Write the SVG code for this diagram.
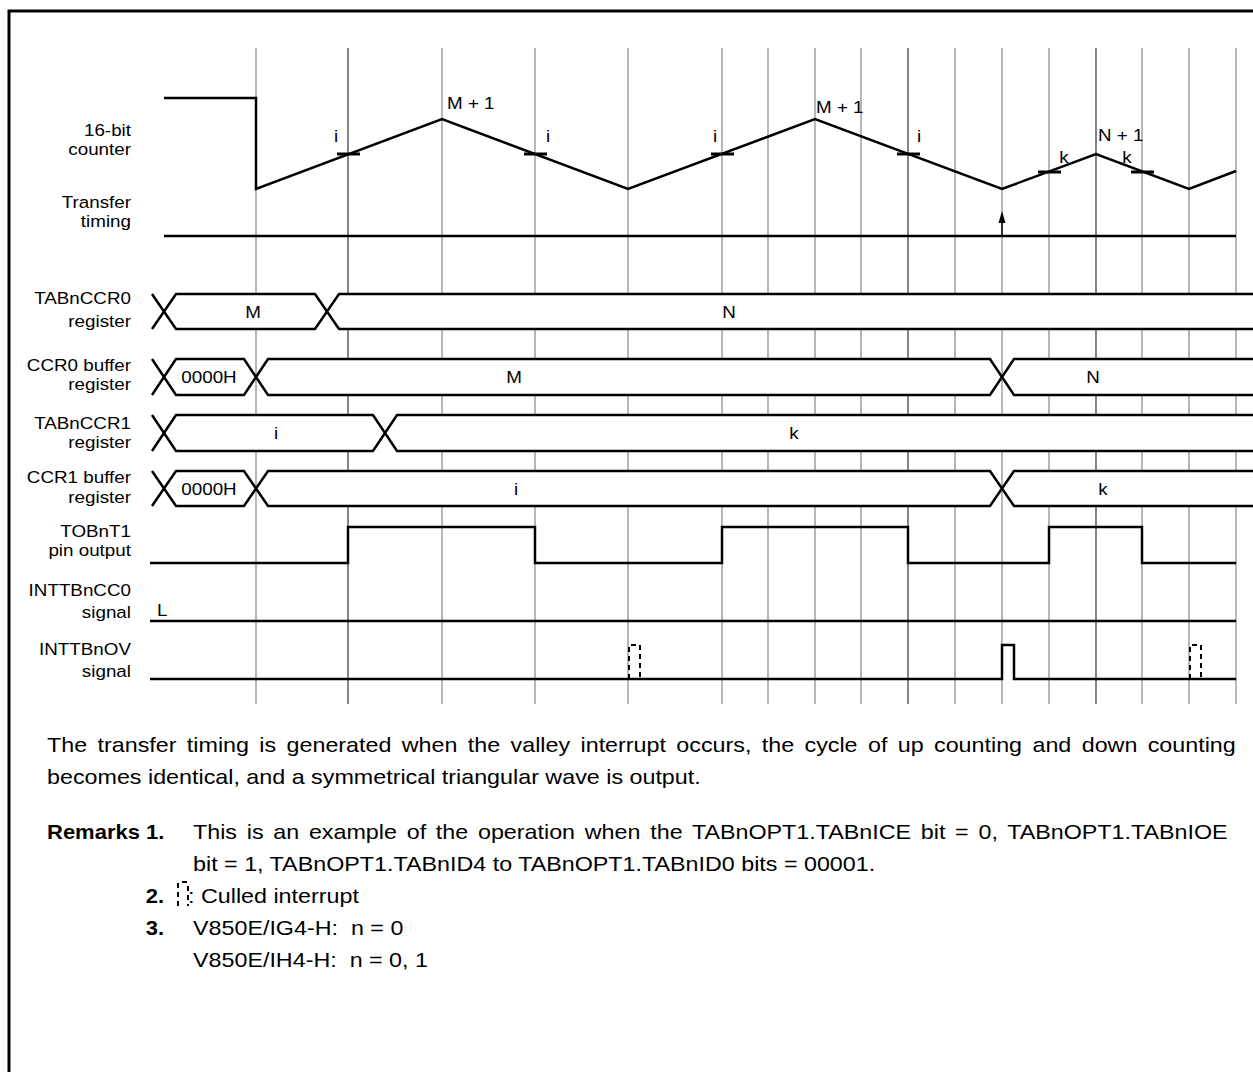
<svg xmlns="http://www.w3.org/2000/svg" width="1253" height="1072" viewBox="0 0 1253 1072">
<style>
text{font-family:"Liberation Sans",Arial,Helvetica,sans-serif;fill:#000}
.lbl{font-size:16.5px;text-anchor:end}
.v{font-size:16.5px}
.c{font-size:16.5px;text-anchor:middle}
.body{font-size:20px}
.b{font-weight:bold}
.e{text-anchor:end}
.grid{stroke:#888;stroke-width:1.2}
.gd{stroke:#333;stroke-width:1.2}
.sig{fill:none;stroke:#000;stroke-width:2.5;stroke-linejoin:miter}
.bus{fill:#fff;stroke:#000;stroke-width:2.5;stroke-linejoin:miter}
.tick{stroke:#000;stroke-width:3}
.dash{fill:none;stroke:#000;stroke-width:2;stroke-dasharray:5 4}
</style>
<rect width="1253" height="1072" fill="#fff"/>
<path d="M9,1080 V11 H1260" fill="none" stroke="#000" stroke-width="3"/>

<g id="grid">
<line class="grid" x1="256" y1="48" x2="256" y2="704"/>
<line class="gd" x1="348" y1="48" x2="348" y2="704"/>
<line class="grid" x1="442" y1="48" x2="442" y2="704"/>
<line class="grid" x1="535" y1="48" x2="535" y2="704"/>
<line class="grid" x1="628" y1="48" x2="628" y2="704"/>
<line class="grid" x1="722" y1="48" x2="722" y2="704"/>
<line class="grid" x1="768" y1="48" x2="768" y2="704"/>
<line class="grid" x1="815" y1="48" x2="815" y2="704"/>
<line class="grid" x1="861" y1="48" x2="861" y2="704"/>
<line class="gd" x1="908" y1="48" x2="908" y2="704"/>
<line class="grid" x1="955" y1="48" x2="955" y2="704"/>
<line class="grid" x1="1002" y1="48" x2="1002" y2="704"/>
<line class="grid" x1="1049" y1="48" x2="1049" y2="704"/>
<line class="gd" x1="1096" y1="48" x2="1096" y2="704"/>
<line class="grid" x1="1142" y1="48" x2="1142" y2="704"/>
<line class="grid" x1="1189" y1="48" x2="1189" y2="704"/>
<line class="grid" x1="1236" y1="48" x2="1236" y2="704"/>
</g>

<g id="counter">
<text class="lbl" transform="translate(131,136) scale(1.14,1)">16-bit</text>
<text class="lbl" transform="translate(131,155) scale(1.14,1)">counter</text>
<path class="sig" d="M164,98 H256 V189 L442,119 L628,189 L815,119 L1002,189 L1096,154 L1189,189 L1236,171"/>
<line class="tick" x1="337" y1="154" x2="360" y2="154"/>
<line class="tick" x1="524" y1="154" x2="547" y2="154"/>
<line class="tick" x1="711" y1="154" x2="734" y2="154"/>
<line class="tick" x1="897" y1="154" x2="920" y2="154"/>
<line class="tick" x1="1038" y1="172" x2="1061" y2="172"/>
<line class="tick" x1="1131" y1="172" x2="1154" y2="172"/>
<text class="c" transform="translate(336,142) scale(1.14,1)">i</text>
<text class="c" transform="translate(548,142) scale(1.14,1)">i</text>
<text class="c" transform="translate(715,142) scale(1.14,1)">i</text>
<text class="c" transform="translate(919,142) scale(1.14,1)">i</text>
<text class="c" transform="translate(1064,163) scale(1.14,1)">k</text>
<text class="c" transform="translate(1127,163) scale(1.14,1)">k</text>
<text class="v" transform="translate(447,109) scale(1.14,1)">M + 1</text>
<text class="v" transform="translate(816,113) scale(1.14,1)">M + 1</text>
<text class="v" transform="translate(1098,141) scale(1.14,1)">N + 1</text>
</g>

<g id="transfer">
<text class="lbl" transform="translate(131,208) scale(1.14,1)">Transfer</text>
<text class="lbl" transform="translate(131,227) scale(1.14,1)">timing</text>
<line class="sig" x1="164" y1="236" x2="1236" y2="236"/>
</g>

<g id="connectors">
<line x1="1002" y1="236" x2="1002" y2="220" stroke="#000" stroke-width="1.5"/>
<polygon points="1002,211 998.5,223 1005.5,223" fill="#000"/>
</g>

<g id="tabnccr0">
<text class="lbl" transform="translate(131,304) scale(1.14,1)">TABnCCR0</text>
<text class="lbl" transform="translate(131,327) scale(1.14,1)">register</text>
<path class="sig" d="M152,294 L164,311.5 L152,329"/>
<polygon class="bus" points="164,311.5 176,294 315,294 327,311.5 315,329 176,329"/>
<path class="bus" d="M1265,294 H339 L327,311.5 L339,329 H1265"/>
<text class="c" transform="translate(253,317.5) scale(1.14,1)">M</text>
<text class="c" transform="translate(729,317.5) scale(1.14,1)">N</text>
</g>

<g id="ccr0buf">
<text class="lbl" transform="translate(131,371) scale(1.14,1)">CCR0 buffer</text>
<text class="lbl" transform="translate(131,390) scale(1.14,1)">register</text>
<path class="sig" d="M152,359 L164,377 L152,395"/>
<polygon class="bus" points="164,377 176,359 244,359 256,377 244,395 176,395"/>
<polygon class="bus" points="256,377 268,359 990,359 1002,377 990,395 268,395"/>
<path class="bus" d="M1265,359 H1014 L1002,377 L1014,395 H1265"/>
<text class="c" transform="translate(209,383) scale(1.14,1)">0000H</text>
<text class="c" transform="translate(514,383) scale(1.14,1)">M</text>
<text class="c" transform="translate(1093,383) scale(1.14,1)">N</text>
</g>

<g id="tabnccr1">
<text class="lbl" transform="translate(131,429) scale(1.14,1)">TABnCCR1</text>
<text class="lbl" transform="translate(131,448) scale(1.14,1)">register</text>
<path class="sig" d="M152,415 L164,433 L152,451"/>
<polygon class="bus" points="164,433 176,415 373,415 385,433 373,451 176,451"/>
<path class="bus" d="M1265,415 H397 L385,433 L397,451 H1265"/>
<text class="c" transform="translate(276,439) scale(1.14,1)">i</text>
<text class="c" transform="translate(794,439) scale(1.14,1)">k</text>
</g>

<g id="ccr1buf">
<text class="lbl" transform="translate(131,483) scale(1.14,1)">CCR1 buffer</text>
<text class="lbl" transform="translate(131,503) scale(1.14,1)">register</text>
<path class="sig" d="M152,471 L164,488.5 L152,506"/>
<polygon class="bus" points="164,488.5 176,471 244,471 256,488.5 244,506 176,506"/>
<polygon class="bus" points="256,488.5 268,471 990,471 1002,488.5 990,506 268,506"/>
<path class="bus" d="M1265,471 H1014 L1002,488.5 L1014,506 H1265"/>
<text class="c" transform="translate(209,494.5) scale(1.14,1)">0000H</text>
<text class="c" transform="translate(516,494.5) scale(1.14,1)">i</text>
<text class="c" transform="translate(1103,494.5) scale(1.14,1)">k</text>
</g>

<g id="tobnt1">
<text class="lbl" transform="translate(131,537) scale(1.14,1)">TOBnT1</text>
<text class="lbl" transform="translate(131,556) scale(1.14,1)">pin output</text>
<path class="sig" d="M150,563 H348 V527 H535 V563 H722 V527 H908 V563 H1049 V527 H1142 V563 H1236"/>
</g>

<g id="inttbncc0">
<text class="lbl" transform="translate(131,596) scale(1.14,1)">INTTBnCC0</text>
<text class="lbl" transform="translate(131,618) scale(1.14,1)">signal</text>
<text class="v" transform="translate(157,616) scale(1.14,1)">L</text>
<line class="sig" x1="150" y1="621" x2="1236" y2="621"/>
</g>

<g id="inttbnov">
<text class="lbl" transform="translate(131,655) scale(1.14,1)">INTTBnOV</text>
<text class="lbl" transform="translate(131,677) scale(1.14,1)">signal</text>
<path class="sig" d="M150,679 H1002 V645 H1014 V679 H1236"/>
<path class="dash" d="M629,679 V645 H640 V679"/>
<path class="dash" d="M1190,679 V645 H1201 V679"/>
</g>

<g id="notes">
<text class="body" transform="translate(47,752) scale(1.165,1)" word-spacing="3.35">The transfer timing is generated when the valley interrupt occurs, the cycle of up counting and down counting</text>
<text class="body" transform="translate(47,784) scale(1.165,1)">becomes identical, and a symmetrical triangular wave is output.</text>
<text class="body b" transform="translate(47,839) scale(1.1,1)">Remarks 1.</text>
<text class="body" transform="translate(193,839) scale(1.165,1)" word-spacing="2.8">This is an example of the operation when the TABnOPT1.TABnICE bit = 0, TABnOPT1.TABnIOE</text>
<text class="body" transform="translate(193,871) scale(1.165,1)">bit = 1, TABnOPT1.TABnID4 to TABnOPT1.TABnID0 bits = 00001.</text>
<text class="body b e" transform="translate(164,903) scale(1.1,1)">2.</text>
<path class="dash" d="M178,906 V883 M182,882 H188 M188,886 V906"/>
<text class="body" transform="translate(188,903) scale(1.165,1)">: Culled interrupt</text>
<text class="body b e" transform="translate(164,935) scale(1.1,1)">3.</text>
<text class="body" transform="translate(193,935) scale(1.165,1)" xml:space="preserve">V850E/IG4-H:  n = 0</text>
<text class="body" transform="translate(193,967) scale(1.165,1)" xml:space="preserve">V850E/IH4-H:  n = 0, 1</text>
</g>
</svg>
